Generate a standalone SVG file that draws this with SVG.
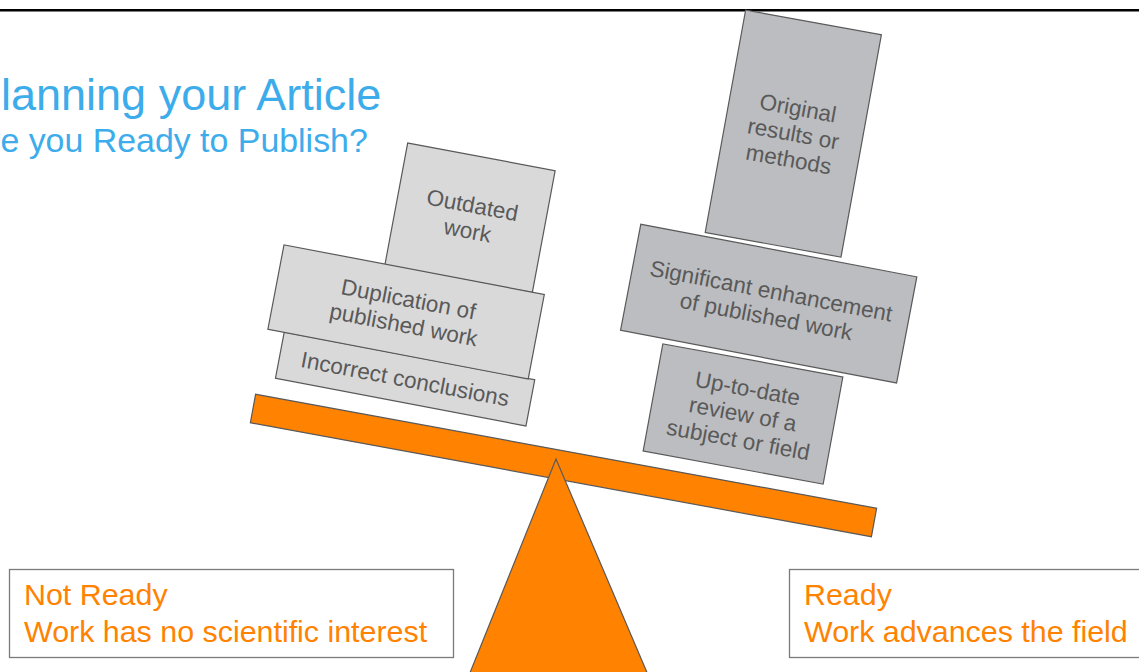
<svg xmlns="http://www.w3.org/2000/svg" width="1139" height="672" viewBox="0 0 1139 672">
  <style>
    .title { font-family: "Liberation Sans", Arial, sans-serif; fill: #3DACEB; }
    .blk-light { fill: #D9D9D9; stroke: #595959; stroke-width: 1.2; }
    .blk-dark { fill: #BCBDC0; stroke: #595959; stroke-width: 1.2; }
    .blk-text { font-family: "Liberation Sans", Arial, sans-serif; font-size: 22.5px; fill: #595959; text-anchor: middle; }
    .orange { fill: #FF8200; stroke: #595959; stroke-width: 1.2; }
    .verdict { fill: #FFFFFF; stroke: #7A7A7A; stroke-width: 1.3; }
    .verdict-text { font-family: "Liberation Sans", Arial, sans-serif; font-size: 30.4px; fill: #FF8200; }
  </style>

  <rect x="0" y="0" width="1139" height="672" fill="#FFFFFF"/>
  <line x1="0" y1="10.3" x2="1139" y2="10.3" stroke="#000000" stroke-width="2.5"/>

  <g id="title">
    <text class="title" x="-29" y="110" font-size="45">Planning your Article</text>
    <text class="title" x="-33.5" y="152" font-size="33.9">Are you Ready to Publish?</text>
  </g>

  <!-- seesaw beam -->
  <g id="beam">
    <rect class="orange" x="-315.7" y="-14.5" width="631.4" height="29" transform="translate(563.5 465.5) rotate(10.4)"/>
  </g>

  <!-- left pile -->
  <g id="outdated" transform="translate(470 217.8) rotate(10.6)">
    <rect class="blk-light" x="-75" y="-62" width="150" height="124"/>
    <text class="blk-text" x="0" y="-5.2">Outdated</text>
    <text class="blk-text" x="0" y="20.8">work</text>
  </g>
  <g id="incorrect" transform="translate(405.1 379) rotate(10.8)">
    <rect class="blk-light" x="-127.5" y="-23.5" width="255" height="47"/>
    <text class="blk-text" x="0" y="7.8">Incorrect conclusions</text>
  </g>
  <g id="duplication" transform="translate(406.1 311.9) rotate(10.8)">
    <rect class="blk-light" x="-132.5" y="-43" width="265" height="86"/>
    <text class="blk-text" x="0" y="-5.2">Duplication of</text>
    <text class="blk-text" x="0" y="20.8">published work</text>
  </g>

  <!-- right pile -->
  <g id="original" transform="translate(793.3 133.6) rotate(10.3)">
    <rect class="blk-dark" x="-69" y="-113" width="138" height="226"/>
    <text class="blk-text" x="0" y="-18.2">Original</text>
    <text class="blk-text" x="0" y="7.8">results or</text>
    <text class="blk-text" x="0" y="33.8">methods</text>
  </g>
  <g id="uptodate" transform="translate(743 414) rotate(10.4)">
    <rect class="blk-dark" x="-91.5" y="-54.5" width="183" height="109"/>
    <text class="blk-text" x="0" y="-18.2">Up-to-date</text>
    <text class="blk-text" x="0" y="7.8">review of a</text>
    <text class="blk-text" x="0" y="33.8">subject or field</text>
  </g>
  <g id="significant" transform="translate(768.7 303.6) rotate(10.8)">
    <rect class="blk-dark" x="-140.5" y="-54" width="281" height="108"/>
    <text class="blk-text" x="0" y="-5.2">Significant enhancement</text>
    <text class="blk-text" x="0" y="20.8">of published work</text>
  </g>

  <!-- fulcrum -->
  <g id="fulcrum">
    <polygon class="orange" points="556,459 455,710 663,710"/>
  </g>

  <!-- verdict boxes -->
  <g id="not-ready">
    <rect class="verdict" x="9.5" y="569.5" width="444" height="88"/>
    <text class="verdict-text" x="24" y="605">Not Ready</text>
    <text class="verdict-text" x="24" y="641.7">Work has no scientific interest</text>
  </g>
  <g id="ready">
    <rect class="verdict" x="789.5" y="569.5" width="400" height="88"/>
    <text class="verdict-text" x="804" y="605">Ready</text>
    <text class="verdict-text" x="804" y="641.7">Work advances the field</text>
  </g>

  <g id="connectors"/>
</svg>
